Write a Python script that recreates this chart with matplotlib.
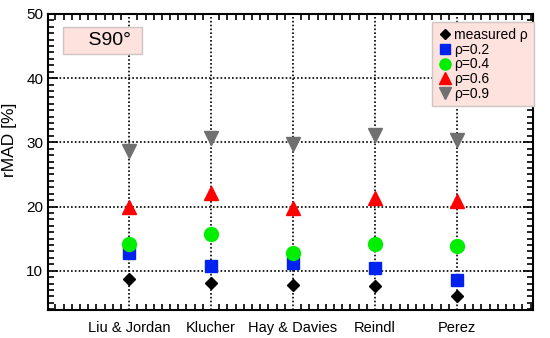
import matplotlib
matplotlib.use("Agg")
import matplotlib.pyplot as plt
from matplotlib.ticker import MultipleLocator

plt.rcParams['font.family'] = ['Liberation Sans', 'DejaVu Sans']

models = ["Liu & Jordan", "Klucher", "Hay & Davies", "Reindl", "Perez"]
measured = [8.7, 8.1, 7.8, 7.7, 6.0]
rho02 = [12.7, 10.8, 11.2, 10.4, 8.6]
rho04 = [14.2, 15.7, 12.8, 14.2, 13.8]
rho06 = [20.0, 22.1, 19.8, 21.4, 20.8]
rho09 = [28.7, 30.7, 29.8, 31.1, 30.4]
yticks = [10, 20, 30, 40, 50]

fig = plt.figure(figsize=(5.5, 3.38), dpi=100)
ax = fig.add_axes([0.0873, 0.083, 0.882, 0.876])

x = list(range(len(models)))
for xi in x:
    ax.axvline(xi, color='black', ls=(0, (1, 1.3)), lw=1.2, zorder=1)
for yv in yticks[:-1]:
    ax.axhline(yv, color='black', ls=(0, (1, 1.3)), lw=1.2, zorder=1)

ax.plot(x, measured, 'D', color='black', ms=6.5, ls='none', label='measured ρ', zorder=3)
ax.plot(x, rho02, 's', color='#0022ee', ms=9, ls='none', label='ρ=0.2', zorder=3)
ax.plot(x, rho04, 'o', color='#00ee00', ms=10, ls='none', label='ρ=0.4', zorder=3)
ax.plot(x, rho06, '^', color='#ff0000', ms=10, ls='none', label='ρ=0.6', zorder=3)
ax.plot(x, rho09, 'v', color='#707070', ms=10, ls='none', label='ρ=0.9', zorder=3)

ax.set_xlim(-0.99, 4.93)
ax.set_ylim(3.9, 50)
ax.set_xticks(x)
ax.set_xticklabels(models, fontsize=10.5)
ax.set_yticks(yticks)
ax.set_yticklabels([str(v) for v in yticks], fontsize=11)
ax.xaxis.set_minor_locator(MultipleLocator(0.1))
ax.yaxis.set_minor_locator(MultipleLocator(1))
ax.tick_params(which='both', direction='in', top=True, right=True, width=1.2)
ax.tick_params(which='major', length=7)
ax.tick_params(which='minor', length=4)
ax.tick_params(axis='x', which='major', length=0, pad=8)
for s in ax.spines.values():
    s.set_linewidth(1.5)

ax.set_ylabel('rMAD [%]', fontsize=12.5)
ax.yaxis.set_label_coords(-0.064, 0.575)

leg = ax.legend(loc='upper right', bbox_to_anchor=(1.01, 0.985), fontsize=10,
                frameon=True, fancybox=False, handletextpad=0.2, handlelength=1.0,
                borderpad=0.4, labelspacing=0.05, borderaxespad=0.3, markerscale=0.8)
leg.get_frame().set_facecolor('#fde2de')
leg.get_frame().set_edgecolor('#cfc6c4')
leg.get_frame().set_alpha(1)
leg.get_frame().set_linewidth(1.0)

ax.text(0.04, 0.91, '    S90° ', transform=ax.transAxes, fontsize=14, va='center', ha='left',
        bbox=dict(boxstyle='square,pad=0.25', facecolor='#fde2de', edgecolor='#cfc6c4', lw=1.0),
        zorder=4)

fig.savefig('out.png', dpi=100)
